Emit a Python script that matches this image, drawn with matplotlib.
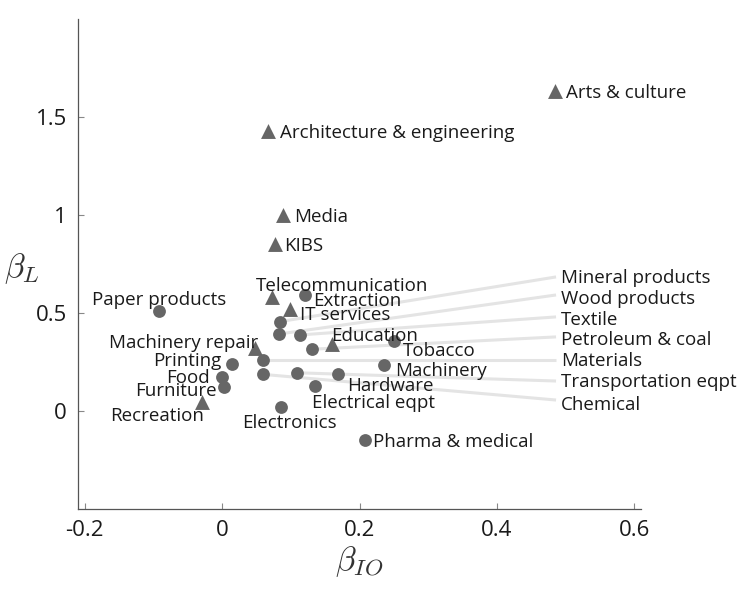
import matplotlib
matplotlib.use('Agg')
import matplotlib.pyplot as plt

plt.rcParams['font.family'] = ['Open Sans', 'DejaVu Sans']
plt.rcParams['mathtext.fontset'] = 'cm'

# Sectors labelled next to their marker
names = ['Arts & culture', 'Architecture & engineering', 'Media', 'KIBS',
         'Telecommunication', 'IT services', 'Education', 'Machinery repair',
         'Recreation', 'Paper products', 'Extraction', 'Tobacco', 'Machinery',
         'Hardware', 'Electrical eqpt', 'Electronics', 'Pharma & medical',
         'Printing', 'Food', 'Furniture']
beta_io = [0.485, 0.066, 0.088, 0.077, 0.072, 0.098, 0.160, 0.048, -0.030,
           -0.092, 0.120, 0.250, 0.235, 0.168, 0.135, 0.085, 0.208,
           0.014, 0.000, 0.003]
beta_l = [1.63, 1.43, 1.00, 0.85, 0.58, 0.52, 0.34, 0.32, 0.046,
          0.51, 0.59, 0.357, 0.235, 0.19, 0.128, 0.02, -0.148,
          0.24, 0.173, 0.122]
is_service = [True, True, True, True, True, True, True, True, True,
              False, False, False, False, False, False, False, False,
              False, False, False]

# Sectors labelled on the right with leader lines
far_names = ['Mineral products', 'Wood products', 'Textile', 'Petroleum & coal',
             'Materials', 'Transportation eqpt', 'Chemical']
far_io = [0.084, 0.083, 0.113, 0.130, 0.059, 0.109, 0.059]
far_l = [0.456, 0.393, 0.388, 0.315, 0.260, 0.195, 0.187]

# label placement: (dx, dy in pixels, ha)
offsets = [(11, -2, 'left'), (12, -2, 'left'), (11, -2, 'left'), (9, -2, 'left'),
           (70, 11, 'center'), (10, -6, 'left'), (-1, 8, 'left'), (3, 5, 'right'),
           (2, -14, 'right'), (0, 11, 'center'), (8, -6, 'left'), (9, -10, 'left'),
           (11, -6, 'left'), (9, -12, 'left'), (-3, -17, 'left'), (9, -16, 'center'),
           (8, -2, 'left'), (-10, 3, 'right'), (-12, -1, 'right'), (-8, -4, 'right')]
far_text_y = [0.679, 0.572, 0.464, 0.362, 0.255, 0.148, 0.031]
far_line_y = [0.684, 0.592, 0.480, 0.378, 0.260, 0.153, 0.056]

mark = '#666666'
txt = '#1a1a1a'

fig = plt.figure(figsize=(7.47, 5.89), dpi=100)
ax = fig.add_axes([0.1044, 0.1358, 0.754, 0.832])

for x, y, ly in zip(far_io, far_l, far_line_y):
    ax.plot([x, 0.486], [y, ly], color='#e4e4e4', lw=2.2, zorder=1,
            solid_capstyle='butt')
for n, ty in zip(far_names, far_text_y):
    ax.text(0.493, ty, n, fontsize=13.5, color=txt, va='center', ha='left')

ax.scatter(far_io, far_l, marker='o', s=85, color=mark, zorder=3, lw=0)
for x, y, svc in zip(beta_io, beta_l, is_service):
    ax.scatter(x, y, marker='^' if svc else 'o', s=115 if svc else 85,
               color=mark, zorder=3, lw=0)

for n, x, y, (dx, dy, ha) in zip(names, beta_io, beta_l, offsets):
    ax.annotate(n, (x, y), xytext=(dx, dy), textcoords='offset pixels',
                fontsize=13.5, color=txt, ha=ha, va='center', zorder=4)

ax.set_xlim(-0.21, 0.61)
ax.set_ylim(-0.5, 2.0)
ax.set_xticks([-0.2, 0, 0.2, 0.4, 0.6])
ax.set_xticklabels(['-0.2', '0', '0.2', '0.4', '0.6'])
ax.set_yticks([0, 0.5, 1, 1.5])
ax.set_yticklabels(['0', '0.5', '1', '1.5'])
ax.tick_params(direction='in', length=4, color='#888888', labelsize=16,
               labelcolor=txt, pad=8)
for side in ['top', 'right']:
    ax.spines[side].set_visible(False)
for side in ['left', 'bottom']:
    ax.spines[side].set_color('#555555')
    ax.spines[side].set_linewidth(0.9)

ax.set_xlabel(r'$\beta_{IO}$', fontsize=24, color='#333333', labelpad=2)
ax.set_ylabel(r'$\beta_L$', fontsize=24, color='#333333', rotation=0,
              va='center')
ax.yaxis.set_label_coords(-0.10, 0.49)

fig.savefig('out.png', dpi=100)
